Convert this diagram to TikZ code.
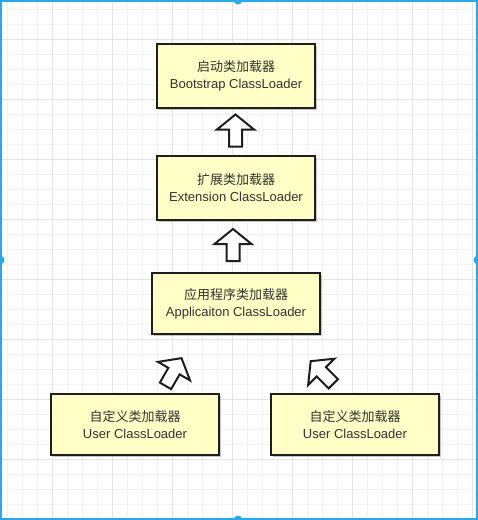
\documentclass[tikz,border=0pt]{standalone}
\usepackage{fontspec}
\setmainfont{Liberation Sans}
\newfontfamily\cjk{Noto Sans CJK SC}
\usetikzlibrary{shadows}
\definecolor{gridminor}{HTML}{F3F1F3}
\definecolor{gridmajor}{HTML}{E6E3E6}
\definecolor{selblue}{HTML}{2AA9E6}
\definecolor{boxfill}{HTML}{FFFFC6}
\definecolor{ink}{HTML}{333333}
\definecolor{edge}{HTML}{1E1E1E}
\tikzset{
  loader/.style={draw=edge, line width=2pt, fill=boxfill, align=center,
    text=ink, inner sep=0pt, font=\fontsize{13}{17}\selectfont,
    drop shadow={shadow xshift=2pt, shadow yshift=-2pt, opacity=0.22, fill=black}},
  arrowline/.style={draw=edge, line width=2pt, fill=white, line join=miter},
  uparrow/.pic={\path[arrowline] (0,-16) -- (18.5,-1) -- (6.5,-1) -- (6.5,16)
     -- (-6.5,16) -- (-6.5,-1) -- (-18.5,-1) -- cycle;},
  handle/.style={circle, fill=selblue, inner sep=0pt, minimum size=9pt}
}
\begin{document}
\begin{tikzpicture}[x=1pt,y=-1pt]
\useasboundingbox (0,0) rectangle (478,520);
\fill[white] (0,0) rectangle (478,520);
% grid
\foreach \gx in {7,22,...,477} \draw[gridminor, line width=1pt] (\gx,0) -- (\gx,520);
\foreach \gy in {9,24,...,519} \draw[gridminor, line width=1pt] (0,\gy) -- (478,\gy);
\foreach \gx in {52,112,...,477} \draw[gridmajor, line width=1pt] (\gx,0) -- (\gx,520);
\foreach \gy in {39,99,...,519} \draw[gridmajor, line width=1pt] (0,\gy) -- (478,\gy);
% selection frame
\draw[selblue, line width=2pt] (1,1) rectangle (477,519);
\node[handle] (h1) at (238,0) {};
\node[handle] (h2) at (0,260) {};
\node[handle] (h3) at (478,260) {};
\node[handle] (h4) at (238,520) {};
% boxes
\node[loader, minimum width=158pt, minimum height=64pt] (boot) at (236,76)
  {{\cjk 启动类加载器}\\Bootstrap ClassLoader};
\node[loader, minimum width=158pt, minimum height=64pt] (ext) at (236,188)
  {{\cjk 扩展类加载器}\\Extension ClassLoader};
\node[loader, minimum width=168pt, minimum height=61pt] (app) at (236,303.5)
  {{\cjk 应用程序类加载器}\\Applicaiton ClassLoader};
\node[loader, minimum width=168pt, minimum height=61pt] (user1) at (135,424.5)
  {{\cjk 自定义类加载器}\\User ClassLoader};
\node[loader, minimum width=168pt, minimum height=61pt] (user2) at (355,424.5)
  {{\cjk 自定义类加载器}\\User ClassLoader};
% block arrows
\pic at (235.5,130.5) {uparrow};
\pic at (233,245) {uparrow};
\pic[rotate=-30] at (173.5,372) {uparrow};
\pic[rotate=45] at (322,372.5) {uparrow};
\end{tikzpicture}
\end{document}
